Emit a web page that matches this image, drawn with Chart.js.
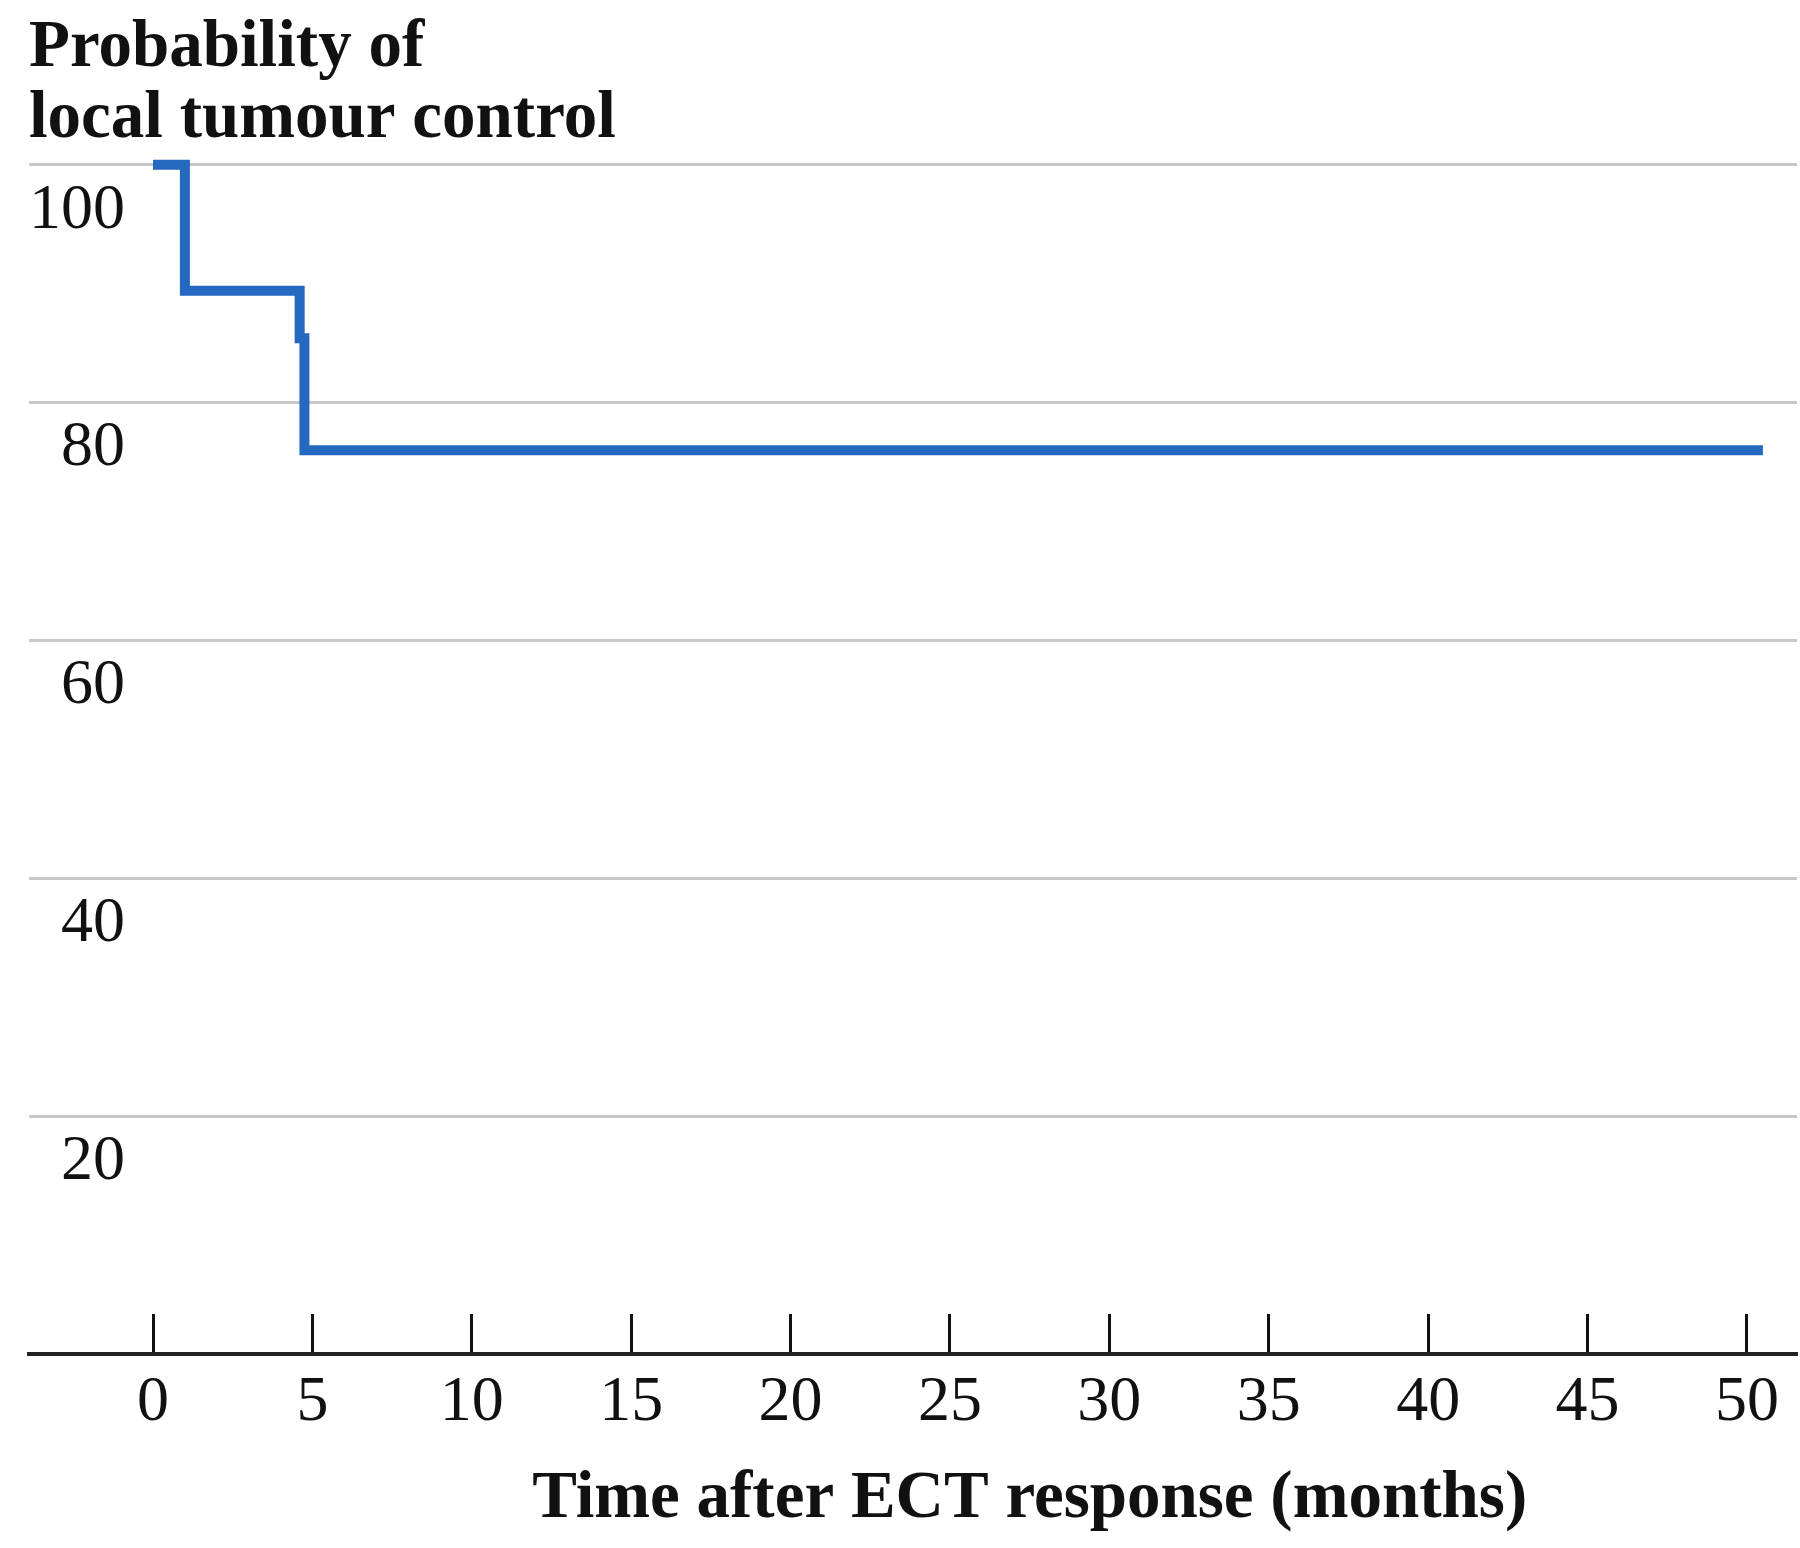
<!DOCTYPE html>
<html>
<head>
<meta charset="utf-8">
<script src="https://cdn.jsdelivr.net/npm/chart.js@4.4.1/dist/chart.umd.min.js"></script>
<style>
  html, body { margin: 0; padding: 0; background: #fff; overflow: hidden; }
  #wrap { width: 1800px; height: 1548px; }
</style>
</head>
<body>
<div id="wrap"><canvas id="kmChart"></canvas></div>
<script>
// Kaplan-Meier curve
const months = [0, 1.0, 4.6, 4.75, 50.5];
const control = [100, 89.4, 85.4, 76.0, 76.0];

const xTicks = [0, 5, 10, 15, 20, 25, 30, 35, 40, 45, 50];
const yTicks = [20, 40, 60, 80, 100];

const yTitle = ['Probability of', 'local tumour control'];
const xTitle = 'Time after ECT response (months)';

const serif = '"Liberation Serif", "Times New Roman", serif';
Chart.defaults.font.family = serif;
Chart.defaults.color = '#111';

// axis title under the x axis, drawn a bit right of centre like the original
const xTitlePlugin = {
  id: 'xTitle',
  afterDraw(chart) {
    const { ctx } = chart;
    const x = chart.scales.x;
    ctx.save();
    ctx.font = 'bold 67px ' + serif;
    ctx.fillStyle = '#111';
    ctx.textAlign = 'center';
    ctx.textBaseline = 'middle';
    ctx.fillText(xTitle, x.getPixelForValue(27.5), x.bottom - 48);
    ctx.restore();
  },
};

const points = months.map((m, i) => ({ x: m, y: control[i] }));

new Chart(document.getElementById('kmChart'), {
  type: 'line',
  data: {
    datasets: [
      {
        data: points,
        borderColor: '#2468bf',
        borderWidth: 10,
        borderCapStyle: 'butt',
        borderJoinStyle: 'miter',
        stepped: true,
        pointRadius: 0,
        fill: false,
        clip: false,
      },
    ],
  },
  options: {
    responsive: true,
    maintainAspectRatio: false,
    animation: false,
    layout: { padding: { left: 29, right: 3, top: 0, bottom: 0 } },
    plugins: {
      legend: { display: false },
      tooltip: { enabled: false },
      title: {
        display: true,
        text: yTitle,
        align: 'start',
        color: '#111',
        font: { size: 67, weight: 'bold', lineHeight: 1.05 },
        padding: { top: 14, bottom: 10 },
      },
    },
    scales: {
      x: {
        type: 'linear',
        min: -3.89,
        max: 51.57,
        afterBuildTicks: (scale) => {
          scale.ticks = xTicks.map((v) => ({ value: v }));
        },
        afterFit: (scale) => {
          scale.height = 194;
          scale.paddingLeft = 0;
          scale.paddingRight = 0;
        },
        grid: {
          display: true,
          drawOnChartArea: false,
          drawTicks: true,
          tickLength: -40,
          tickColor: '#111',
          tickWidth: 3,
        },
        border: { display: true, color: '#222', width: 4 },
        ticks: {
          color: '#111',
          font: { size: 64, lineHeight: 1 },
          padding: 57,
          maxRotation: 0,
          autoSkip: false,
        },
      },
      y: {
        type: 'linear',
        min: 0,
        max: 100,
        afterBuildTicks: (scale) => {
          scale.ticks = yTicks.map((v) => ({ value: v }));
        },
        afterFit: (scale) => {
          scale.width = 0;
          scale.paddingTop = 0;
          scale.paddingBottom = 0;
        },
        grid: {
          color: '#c8c8c8',
          lineWidth: 3,
          drawTicks: false,
        },
        border: { display: false },
        ticks: {
          mirror: true,
          crossAlign: 'far',
          padding: 0,
          labelOffset: 46,
          color: '#111',
          font: { size: 64, lineHeight: 1 },
        },
      },
    },
  },
  plugins: [xTitlePlugin],
});
</script>
</body>
</html>
